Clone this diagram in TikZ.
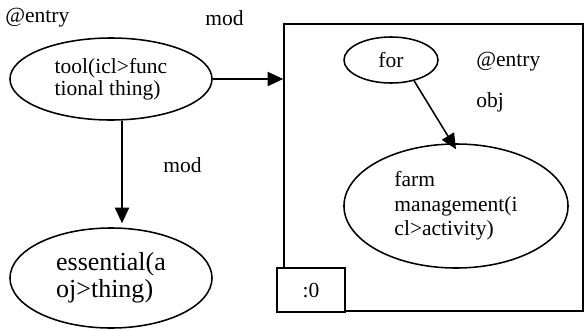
\documentclass[tikz,border=0pt]{standalone}
\usepackage{fontspec}
\setmainfont{Liberation Serif}
\usetikzlibrary{arrows.meta,positioning,shapes}

\tikzset{
  rel/.style={draw,ellipse,line width=1.1pt,inner sep=0pt,align=left},
  lbl/.style={anchor=west,inner sep=0pt,font=\fontsize{15.3}{16}\selectfont},
  arr/.style={line width=1.1pt,-{Triangle[length=11pt,width=10pt]}}
}

\begin{document}
\begin{tikzpicture}[x=0.025cm,y=-0.025cm]
\useasboundingbox (0,0) rectangle (587,330);

% outer scope of the relation
\node[draw,line width=1.1pt,minimum width=7.475cm,minimum height=7.175cm,inner sep=0pt] (frame) at (433.5,167.5) {};
\node[draw,fill=white,line width=1.1pt,minimum width=1.7cm,minimum height=1.1cm,inner sep=0pt,font=\fontsize{15.3}{16}\selectfont] (scopeid) at (311,290) {:0};

% nodes
\node[rel,minimum width=5.05cm,minimum height=2.05cm,font=\fontsize{15.3}{15.6}\selectfont] (tool) at (111,79) {tool(icl>func\\tional thing)};
\node[rel,minimum width=5.05cm,minimum height=2.5cm,font=\fontsize{18.5}{19.5}\selectfont] (essential) at (111,278) {essential(a\\oj>thing)};
\node[rel,minimum width=2.35cm,minimum height=1.15cm,font=\fontsize{15.3}{16}\selectfont] (for) at (391,60) {for};
\node[rel,minimum width=5.6cm,minimum height=3.1cm,font=\fontsize{15.3}{17.4}\selectfont] (farm) at (456,206) {farm\\management(i\\cl>activity)};

% labels
\node[lbl] (entryA) at (5,18) {@entry};
\node[lbl] (modA) at (205,18) {mod};
\node[lbl] (modB) at (163,165) {mod};
\node[lbl] (entryB) at (476,62) {@entry};
\node[lbl] (objA) at (476,102) {obj};

% links
\draw[arr] (tool.east) -- (tool.east -| frame.west);
\draw[arr] ([xshift=0.275cm]tool.south) -- ([xshift=0.275cm,yshift=0.1cm]essential.north);
\draw[arr] (for.-42) -- ([yshift=-0.15cm]farm.north);

\end{tikzpicture}
\end{document}
